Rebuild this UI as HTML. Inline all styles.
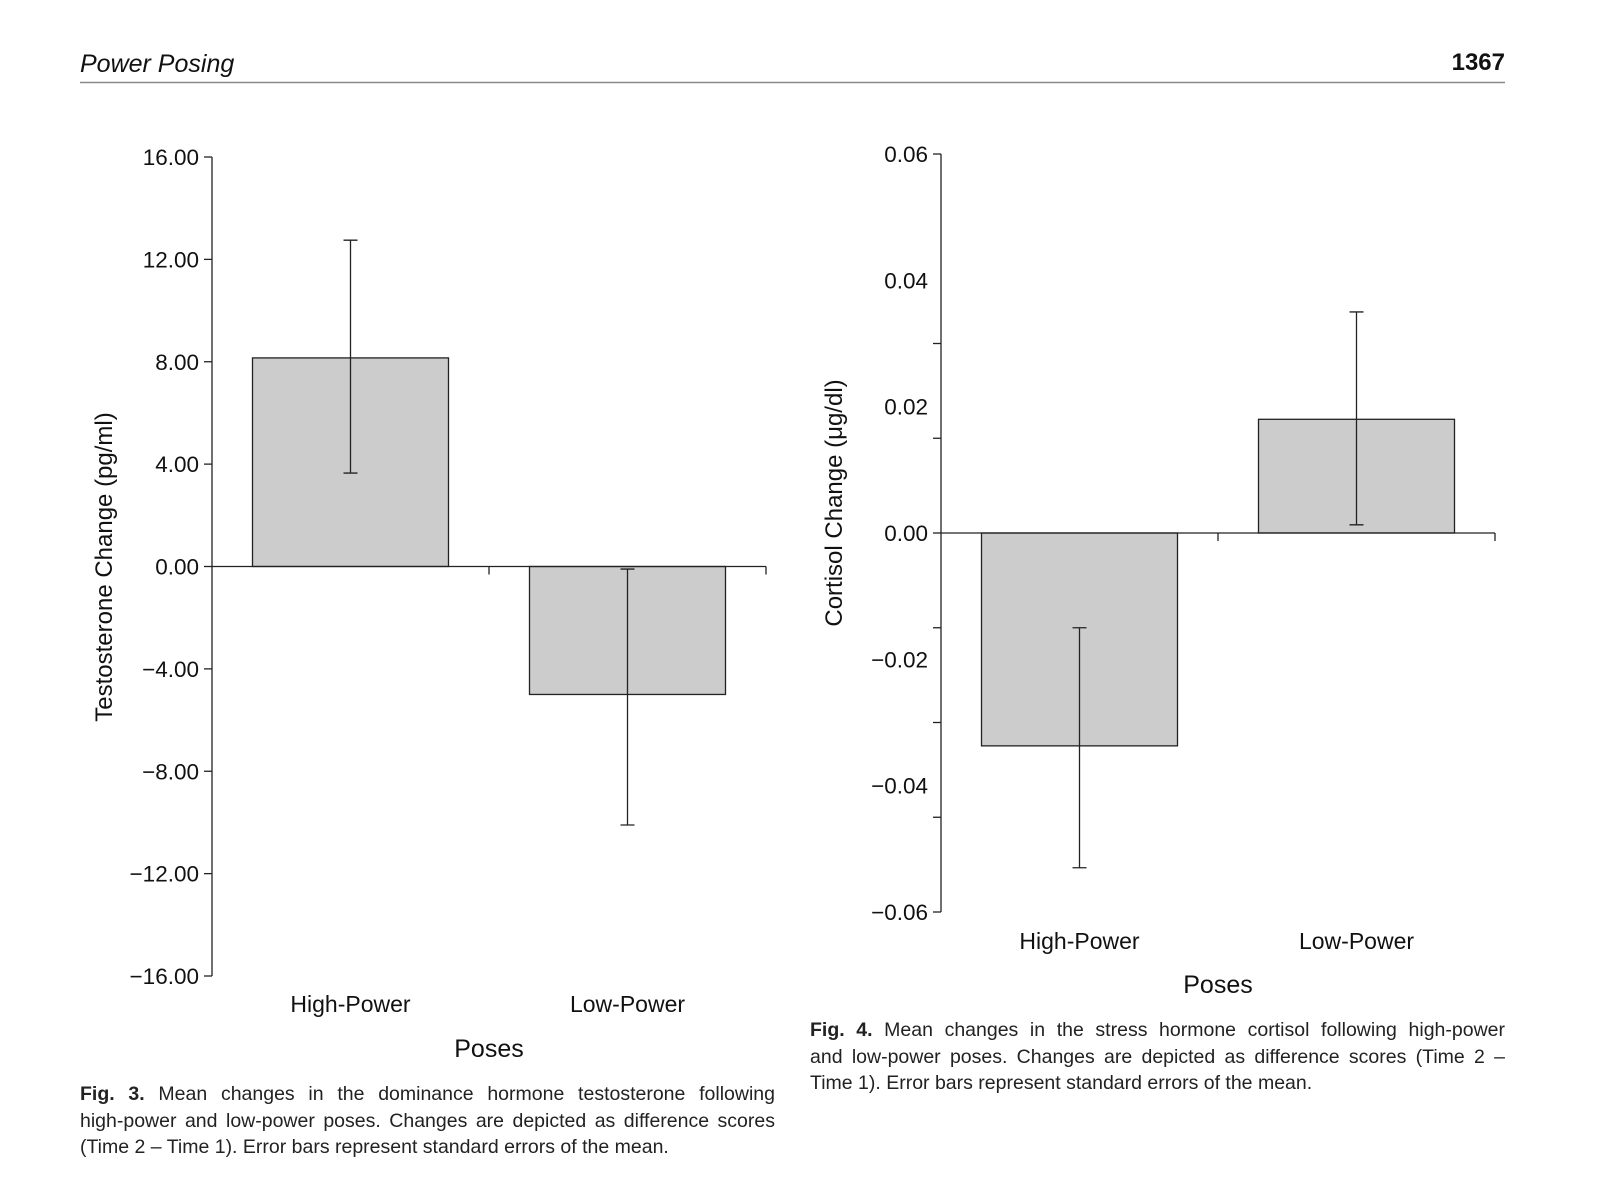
<!DOCTYPE html>
<html><head><meta charset="utf-8">
<style>
body{margin:0;background:#fff;}
#page{position:relative;width:1600px;height:1204px;overflow:hidden;font-family:"Liberation Sans",sans-serif;}
.cap{position:absolute;font-size:19.5px;color:#222;line-height:26.5px;}
.cap div{white-space:nowrap;}
.j{text-align:justify;text-align-last:justify;}
</style></head>
<body>
<div id="page">
<svg id="svg" width="1600" height="1204" style="position:absolute;left:0;top:0">
  <text x="80" y="72" font-size="25" font-style="italic" fill="#111">Power Posing</text>
  <text x="1505" y="70" font-size="24" font-weight="bold" text-anchor="end" fill="#111">1367</text>
  <line x1="80" y1="82.5" x2="1505" y2="82.5" stroke="#888" stroke-width="1.5"/>
  <g id="c1"></g>
  <g id="c2"></g>
</svg>
<div class="cap" style="left:80px;top:1081px;width:695px">
<div class="j"><b>Fig. 3.</b> Mean changes in the dominance hormone testosterone following</div>
<div class="j">high-power and low-power poses. Changes are depicted as difference scores</div>
<div>(Time 2 – Time 1). Error bars represent standard errors of the mean.</div>
</div>
<div class="cap" style="left:810px;top:1017px;width:695px">
<div class="j"><b>Fig. 4.</b> Mean changes in the stress hormone cortisol following high-power</div>
<div class="j">and low-power poses. Changes are depicted as difference scores (Time 2 –</div>
<div>Time 1). Error bars represent standard errors of the mean.</div>
</div>
</div>
<script>
const categories=["High-Power","Low-Power"];
const testoMeans=[8.15,-5.0];
const testoUpper=[12.75,-0.1];
const testoLower=[3.65,-10.1];
const testoTicks=[16,12,8,4,0,-4,-8,-12,-16];
const testoTickLabels=["16.00","12.00","8.00","4.00","0.00","\u22124.00","\u22128.00","\u221212.00","\u221216.00"];
const cortMeans=[-0.0337,0.018];
const cortUpper=[-0.015,0.035];
const cortLower=[-0.053,0.0013];
const cortLabelTicks=[0.06,0.04,0.02,0,-0.02,-0.04,-0.06];
const cortTickLabels=["0.06","0.04","0.02","0.00","\u22120.02","\u22120.04","\u22120.06"];
const cortMarkTicks=[0.06,0.03,0.015,0,-0.015,-0.03,-0.045,-0.06];
const NS="http://www.w3.org/2000/svg";
function mk(parent,tag,attrs,text){const e=document.createElementNS(NS,tag);for(const k in attrs)e.setAttribute(k,attrs[k]);if(text!==undefined)e.textContent=text;parent.appendChild(e);return e;}
function chart(g,cfg){
  const y=v=>cfg.y0-(v-cfg.vmin)/(cfg.vmax-cfg.vmin)*(cfg.y0-cfg.y1);
  const zero=y(0);
  const slot=(cfg.xEnd-cfg.xAxis)/categories.length;
  const xc=i=>cfg.xAxis+slot*(i+0.5);
  // bars
  cfg.means.forEach((m,i)=>{
    const r=mk(g,'rect',{x:xc(i)-98,y:Math.min(y(m),zero),width:196,height:Math.abs(y(m)-zero),fill:'#cccccc',stroke:'#222','stroke-width':1.3});
    
    
    const e=mk(g,'path',{d:`M${xc(i)},${y(cfg.upper[i])}V${y(cfg.lower[i])}M${xc(i)-7},${y(cfg.upper[i])}H${xc(i)+7}M${xc(i)-7},${y(cfg.lower[i])}H${xc(i)+7}`,stroke:'#222','stroke-width':1.3,fill:'none'});
    
    
    const t=mk(g,'text',{x:xc(i),y:cfg.catY,'font-size':23,'text-anchor':'middle',fill:'#111'},categories[i]);
    
    
  });
  // axes
  const ya=mk(g,'line',{x1:cfg.xAxis,y1:y(cfg.vmax),x2:cfg.xAxis,y2:y(cfg.vmin),stroke:'#222','stroke-width':1.3});
  
  
  const xa=mk(g,'line',{x1:cfg.xAxis,y1:zero,x2:cfg.xEnd,y2:zero,stroke:'#222','stroke-width':1.3});
  
  
  for(let i=1;i<=categories.length;i++){
    const xx=cfg.xAxis+slot*i;
    const tk=mk(g,'line',{x1:xx,y1:zero,x2:xx,y2:zero+8,stroke:'#222','stroke-width':1.3});
    
    
  }
  cfg.markTicks.forEach(v=>{
    const tk=mk(g,'line',{x1:cfg.xAxis-8,y1:y(v),x2:cfg.xAxis,y2:y(v),stroke:'#222','stroke-width':1.3});
    
    
  });
  cfg.labelTicks.forEach((v,i)=>{
    const t=mk(g,'text',{x:cfg.xAxis-13,y:y(v)+8,'font-size':22.5,'text-anchor':'end',fill:'#111'},cfg.labels[i]);
    
    
  });
  const yt=mk(g,'text',{x:0,y:0,'font-size':24,'text-anchor':'middle',fill:'#111',transform:`translate(${cfg.titleX},${cfg.titleY}) rotate(-90)`},cfg.title);
  
  
  const xt=mk(g,'text',{x:(cfg.xAxis+cfg.xEnd)/2,y:cfg.posesY,'font-size':25,'text-anchor':'middle',fill:'#111'},'Poses');
  
  
}
chart(document.getElementById('c1'),{vmin:-16,vmax:16,y0:976,y1:157,xAxis:212,xEnd:766,means:testoMeans,upper:testoUpper,lower:testoLower,markTicks:testoTicks,labelTicks:testoTicks,labels:testoTickLabels,title:'Testosterone Change (pg/ml)',titleX:112,titleY:567,catY:1012,posesY:1057});
chart(document.getElementById('c2'),{vmin:-0.06,vmax:0.06,y0:912,y1:154,xAxis:941,xEnd:1495,means:cortMeans,upper:cortUpper,lower:cortLower,markTicks:cortMarkTicks,labelTicks:cortLabelTicks,labels:cortTickLabels,title:'Cortisol Change (\u03bcg/dl)',titleX:842,titleY:503,catY:949,posesY:993});
</script>
</body></html>
